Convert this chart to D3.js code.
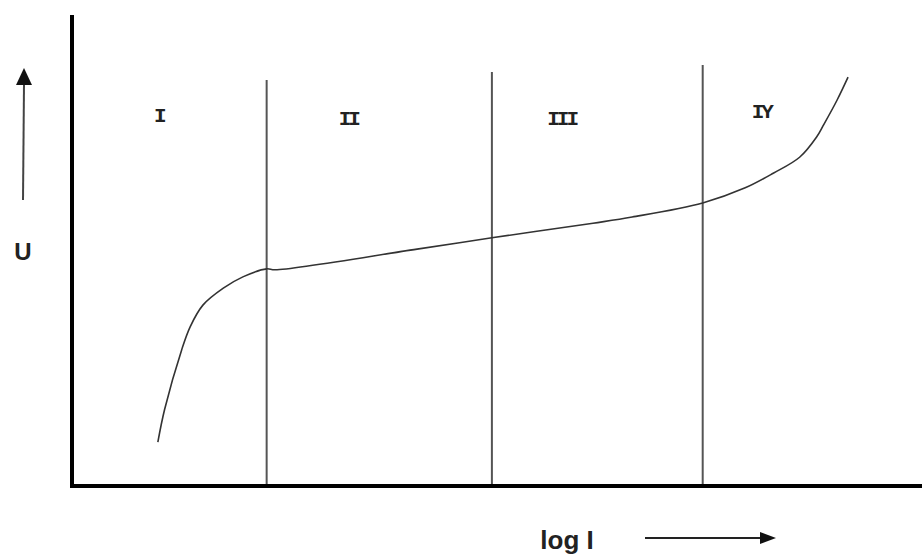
<!DOCTYPE html>
<html>
<head>
<meta charset="utf-8">
<script src="https://cdn.jsdelivr.net/npm/d3@7"></script>
<style>
  body { margin: 0; background: white; }
  svg { display: block; }
</style>
</head>
<body>
<svg id="chart"></svg>
<script>
var WIDTH = 922,
    HEIGHT = 557,
    PLOT = {left: 72, right: 922, top: 15, bottom: 486},
    AXIS_COLOR = "black",
    DIVIDER_COLOR = "#555",
    CURVE_COLOR = "#333";

// curve U vs log I, in chart units (0..100 on both axes)
var curveLogI = [10.1, 10.9, 12.9, 13.9, 15.4, 17.8, 20.1, 22.9, 23.9, 40.6, 49.4, 61.3, 65.9, 74.2, 79.2, 82.5, 85.6, 87.6, 88.4, 90.0, 91.3];
var curveU    = [9.3, 16.3, 28.9, 33.8, 38.4, 42.0, 44.4, 46.1, 45.9, 50.3, 52.7, 55.8, 57.1, 60.1, 63.3, 66.4, 69.8, 74.1, 76.6, 81.9, 86.8];

// region dividers
var dividerLogI = [22.9, 49.4, 74.2];
var dividerTop  = [86.2, 87.9, 89.4];

// region labels
var regionNames = ["I", "II", "III", "IY"];
var regionLogI  = [10.2, 32.5, 57.6, 81.1];
var regionU     = [78.8, 78.3, 78.3, 79.6];

var x = d3.scaleLinear()
    .domain([0, 100])
    .range([PLOT.left, PLOT.right]);
var y = d3.scaleLinear()
    .domain([0, 100])
    .range([PLOT.bottom, PLOT.top]);

var svg = d3.select("#chart")
    .attr("width", WIDTH)
    .attr("height", HEIGHT)
    .style("background", "white");

// region dividers
svg.selectAll(".divider")
    .data(dividerLogI)
    .enter().append("line")
    .attr("class", "divider")
    .attr("x1", function(d) { return x(d); })
    .attr("x2", function(d) { return x(d); })
    .attr("y1", function(d, i) { return y(dividerTop[i]); })
    .attr("y2", y(0))
    .style("stroke", DIVIDER_COLOR)
    .style("stroke-width", 2);

// the curve
var pts = curveLogI.map(function(d, i) { return [d, curveU[i]]; });
var line = d3.line()
    .x(function(d) { return x(d[0]); })
    .y(function(d) { return y(d[1]); })
    .curve(d3.curveCatmullRom.alpha(0.5));
svg.append("path")
    .datum(pts)
    .attr("d", line)
    .style("fill", "none")
    .style("stroke", CURVE_COLOR)
    .style("stroke-width", 1.6);

// axes
svg.append("line")
    .attr("x1", x(0))
    .attr("x2", x(0))
    .attr("y1", y(100))
    .attr("y2", y(0) + 2)
    .style("stroke", AXIS_COLOR)
    .style("stroke-width", 4);
svg.append("line")
    .attr("x1", x(0) - 2)
    .attr("x2", x(100))
    .attr("y1", y(0))
    .attr("y2", y(0))
    .style("stroke", AXIS_COLOR)
    .style("stroke-width", 4);

// region labels (slab serif, like the original)
svg.selectAll(".region")
    .data(regionNames)
    .enter().append("text")
    .attr("class", "region")
    .attr("x", function(d, i) { return x(regionLogI[i]); })
    .attr("y", function(d, i) { return y(regionU[i]); })
    .attr("dy", ".35em")
    .style("font-family", "'Liberation Mono', 'Courier New', monospace")
    .style("font-weight", "bold")
    .style("font-size", "21px")
    .style("letter-spacing", "-3px")
    .style("fill", "#222")
    .style("text-anchor", "middle")
    .text(function(d) { return d; });

// axis titles with arrows
svg.append("text")
    .attr("x", 23)
    .attr("y", 252)
    .attr("dy", ".35em")
    .style("font-family", "'Liberation Sans', Arial, sans-serif")
    .style("font-weight", "bold")
    .style("font-size", "24px")
    .style("fill", "#222")
    .style("text-anchor", "middle")
    .text("U");
svg.append("line")
    .attr("x1", 23)
    .attr("y1", 200)
    .attr("x2", 24)
    .attr("y2", 84)
    .style("stroke", "#444")
    .style("stroke-width", 2);
svg.append("path")
    .attr("d", "M24,68 L32,85 L16,85 Z")
    .style("fill", "#111");

svg.append("text")
    .attr("x", 567)
    .attr("y", 540)
    .attr("dy", ".35em")
    .style("font-family", "'Liberation Sans', Arial, sans-serif")
    .style("font-weight", "bold")
    .style("font-size", "26px")
    .style("fill", "#222")
    .style("text-anchor", "middle")
    .text("log I");
svg.append("line")
    .attr("x1", 645)
    .attr("y1", 538)
    .attr("x2", 762)
    .attr("y2", 538)
    .style("stroke", "#222")
    .style("stroke-width", 2);
svg.append("path")
    .attr("d", "M776,538 L760,532 L760,544 Z")
    .style("fill", "#111");
</script>
</body>
</html>
